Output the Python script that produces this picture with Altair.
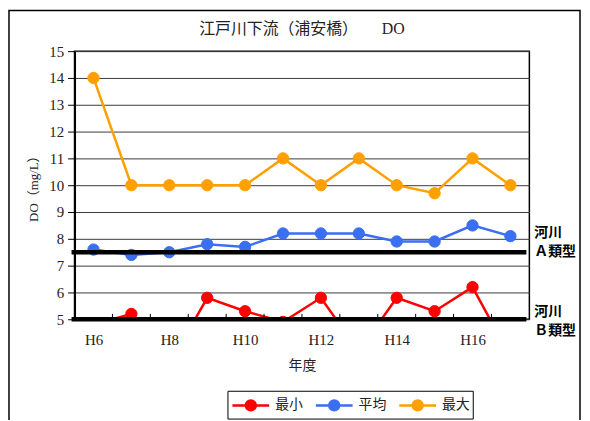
import altair as alt
import pandas as pd

years = [6, 7, 8, 9, 10, 11, 12, 13, 14, 15, 16, 17]
do_min = [4.8, 5.2, 3.3, 5.8, 5.3, 4.9, 5.8, 3.8, 5.8, 5.3, 6.2, 3.6]
do_avg = [7.6, 7.4, 7.5, 7.8, 7.7, 8.2, 8.2, 8.2, 7.9, 7.9, 8.5, 8.1]
do_max = [14.0, 10.0, 10.0, 10.0, 10.0, 11.0, 10.0, 11.0, 10.0, 9.7, 11.0, 10.0]
series_names = ["最小", "平均", "最大"]
series_colors = ["#FF0000", "#3A6FF2", "#FFA000"]
year_labels = [6, 8, 10, 12, 14, 16]
year_edges = [6.5, 7.5, 8.5, 9.5, 10.5, 11.5, 12.5, 13.5, 14.5, 15.5, 16.5]
y_ticks = [5, 6, 7, 8, 9, 10, 11, 12, 13, 14, 15]
standard_values = [7.5, 5.0]
standard_labels = ["河川\nＡ類型", "河川\nＢ類型"]
title_text = ["江戸川下流（浦安橋）　　DO"]

SERIF = "Liberation Serif, Noto Sans CJK JP"
GOTHIC = "Noto Sans CJK JP"
W, H = 458, 270
# legend symbol: a line with a filled dot on it
LEGEND_SYMBOL = "M-1.85,0H1.85M0.5,0A0.5,0.5,0,1,1,-0.5,0A0.5,0.5,0,1,1,0.5,0Z"


def _long_table():
    rows = []
    for name, vals in zip(series_names, [do_min, do_avg, do_max]):
        for y, v in zip(years, vals):
            rows.append({"year": y, "series": name, "value": v})
    return pd.DataFrame(rows)


X_SCALE = alt.Scale(domain=[5.5, 17.5], nice=False)
Y_SCALE = alt.Scale(domain=[5, 15], nice=False, zero=False)
X_AXIS = alt.Axis(values=year_labels, labelExpr="'H' + datum.value",
                  ticks=False, domain=False, grid=False,
                  labelFont=SERIF, labelFontSize=15, labelColor="#222",
                  labelPadding=13, title="年度", titleFont=SERIF,
                  titleFontSize=14, titleFontWeight="normal",
                  titleColor="#222", titlePadding=12)
Y_AXIS = alt.Axis(values=y_ticks, tickCount=11, labelOverlap=False,
                  title="DO（mg/L）", titleFont=SERIF,
                  titleFontSize=13, titleFontWeight="normal",
                  titleColor="#222", titlePadding=8,
                  labelFont=SERIF, labelFontSize=15, labelColor="#222",
                  labelPadding=4, tickSize=7, tickColor="black",
                  domainColor="black", domainWidth=2,
                  gridColor="#3a3a3a", gridWidth=1)


def _plot(df):
    x = alt.X("year:Q", scale=X_SCALE, axis=X_AXIS)
    y = alt.Y("value:Q", scale=Y_SCALE, axis=Y_AXIS)
    point_scale = alt.Scale(domain=series_names, range=series_colors)
    # lines get the same mapping listed in reverse so their (hidden) legend
    # is not merged with the points' legend
    line_scale = alt.Scale(domain=series_names[::-1], range=series_colors[::-1])
    legend = alt.Legend(orient="none", legendX=154, legendY=342,
                        direction="horizontal", title=None,
                        strokeColor="black", fillColor="white", padding=3,
                        labelFont=SERIF, labelFontSize=14, labelColor="#222",
                        symbolType=LEGEND_SYMBOL, symbolSize=400,
                        symbolOffset=9, symbolStrokeWidth=2.5,
                        columnPadding=8, labelOffset=13)

    base = alt.Chart(df)
    lines = base.mark_line(strokeWidth=2.5, clip=True).encode(
        x=x, y=y,
        color=alt.Color("series:N", scale=line_scale, legend=None),
        detail="series:N",
    )
    points = base.mark_point(filled=True, size=130, strokeWidth=1, opacity=1,
                             clip=True).encode(
        x=x, y=y,
        fill=alt.Fill("series:N", scale=point_scale, legend=legend),
        stroke=alt.Stroke("series:N", scale=point_scale, legend=legend),
    )

    edges = alt.Chart(pd.DataFrame({"edge": year_edges})).mark_rule(
        color="black", strokeWidth=1).encode(
        x=alt.X("edge:Q", scale=X_SCALE, axis=X_AXIS),
        y=alt.YDatum(5, scale=Y_SCALE, axis=Y_AXIS), y2=alt.datum(5.2))

    std = pd.DataFrame({"std": standard_values, "label": standard_labels})
    std_y = alt.Y("std:Q", scale=Y_SCALE, axis=Y_AXIS)
    std_lines = alt.Chart(std).mark_rule(color="black", strokeWidth=4.5).encode(
        y=std_y, x=alt.value(-3), x2=alt.value(W - 3))
    std_text_a = alt.Chart(std).transform_filter(alt.datum.std > 6).mark_text(
        align="left", baseline="middle", font=GOTHIC, fontWeight="bold",
        fontSize=14, lineBreak="\n", lineHeight=19, dy=-19, color="black").encode(
        y=std_y, x=alt.value(W + 5), text="label:N")
    std_text_b = alt.Chart(std).transform_filter(alt.datum.std < 6).mark_text(
        align="left", baseline="middle", font=GOTHIC, fontWeight="bold",
        fontSize=14, lineBreak="\n", lineHeight=19, dy=-7, color="black").encode(
        y=std_y, x=alt.value(W + 5), text="label:N")

    title = alt.Chart(pd.DataFrame({"t": title_text})).mark_text(
        font=SERIF, fontSize=16, color="#222", align="center",
        baseline="middle").encode(
        x=alt.value(W / 2), y=alt.value(-22), text="t:N")

    frame = alt.Chart(pd.DataFrame({"f": [0]})).mark_rect(
        fill=None, stroke="black", strokeWidth=1.5).encode(
        x=alt.value(-66), x2=alt.value(W + 51), y=alt.value(-41), y2=alt.value(H + 130))

    chart = alt.layer(lines, points, edges, std_lines, std_text_a, std_text_b,
                      title, frame).properties(
        width=W, height=H,
        padding={"left": 67, "top": 42, "right": 53, "bottom": 100},
        autosize=alt.AutoSizeParams(type="none"),
    ).configure_view(stroke="black", strokeWidth=1.5)
    return chart


chart = _plot(_long_table())
chart.save("out.html", embed_options={"renderer": "svg", "actions": False})
